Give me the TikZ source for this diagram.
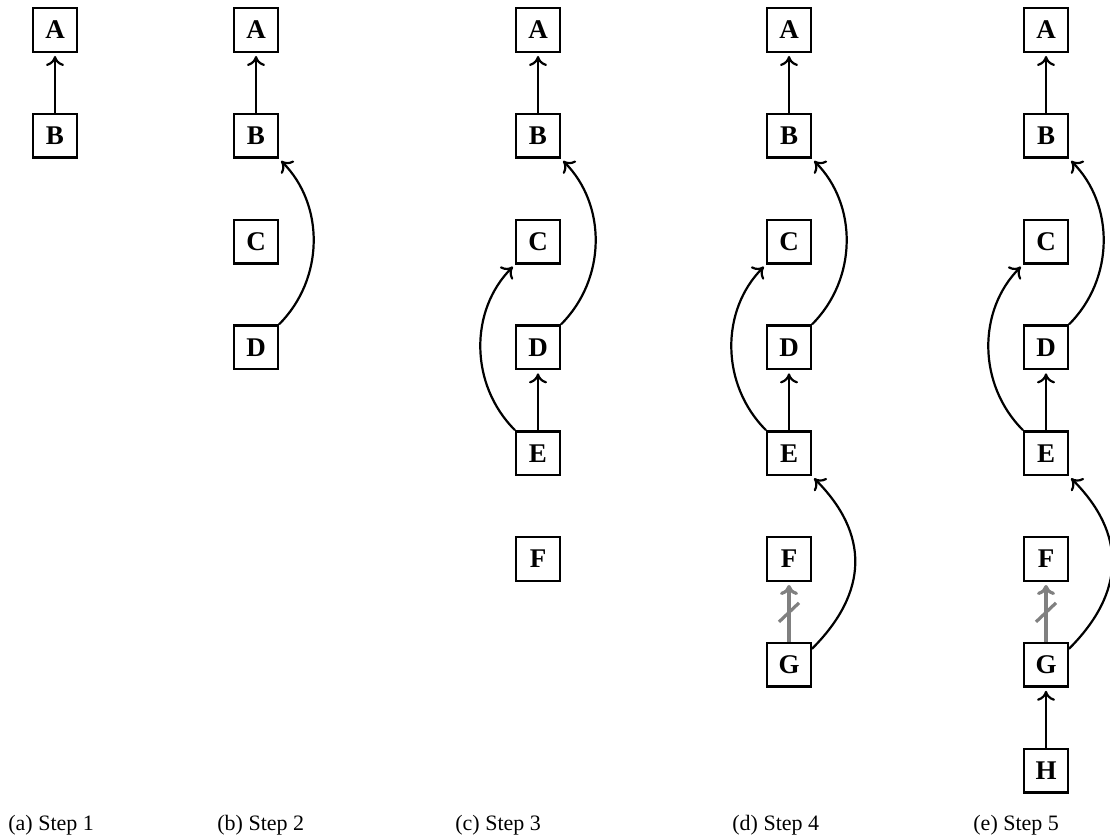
\documentclass[tikz,border=0pt]{standalone}
\usepackage{fontspec}
\setmainfont{Liberation Serif}
\usetikzlibrary{arrows.meta,calc}
\begin{document}
\begin{tikzpicture}[x=0.5pt,y=-0.5pt,
  box/.style={draw,line width=1.2pt,minimum size=21.8pt,inner sep=0pt,font=\fontsize{13.5}{15}\selectfont\bfseries},
  arr/.style={line width=1.1pt,-{To[length=5pt,width=9pt]},shorten >=1.5pt},
  cutarr/.style={draw=gray,line width=1.6pt,-{To[length=5pt,width=9pt]},shorten >=1.5pt},
  slash/.style={draw=gray,line width=1.6pt},
  captext/.style={anchor=base west,inner sep=0pt,font=\fontsize{11}{13}\selectfont}]
\useasboundingbox (0,0) rectangle (1110,839);
% (a)
\node[box] (aA) at (55,30) {A};
\node[box] (aB) at (55,135.8) {B};
\draw[arr] (aB) -- (aA);
% (b)
\node[box] (bA) at (256,30) {A};
\node[box] (bB) at (256,135.8) {B};
\node[box] (bC) at (256,241.6) {C};
\node[box] (bD) at (256,347.4) {D};
\draw[arr] (bB) -- (bA);
\draw[arr] (bD.north east) to[bend right=45] (bB.south east);
% (c)
\node[box] (cA) at (538,30) {A};
\node[box] (cB) at (538,135.8) {B};
\node[box] (cC) at (538,241.6) {C};
\node[box] (cD) at (538,347.4) {D};
\node[box] (cE) at (538,453.2) {E};
\node[box] (cF) at (538,559) {F};
\draw[arr] (cB) -- (cA);
\draw[arr] (cD.north east) to[bend right=45] (cB.south east);
\draw[arr] (cE) -- (cD);
\draw[arr] (cE.north west) to[bend left=45] (cC.south west);
% (d)
\node[box] (dA) at (789,30) {A};
\node[box] (dB) at (789,135.8) {B};
\node[box] (dC) at (789,241.6) {C};
\node[box] (dD) at (789,347.4) {D};
\node[box] (dE) at (789,453.2) {E};
\node[box] (dF) at (789,559) {F};
\node[box] (dG) at (789,664.8) {G};
\draw[arr] (dB) -- (dA);
\draw[arr] (dD.north east) to[bend right=45] (dB.south east);
\draw[arr] (dE) -- (dD);
\draw[arr] (dE.north west) to[bend left=45] (dC.south west);
\draw[cutarr] (dG) -- (dF);
\coordinate (dm) at ($(dG.north)!0.5!(dF.south)$);
\draw[slash] (dm) ++(-10,10) -- ++(20,-19);
\draw[arr] ([yshift=-3.5pt]dG.north east) to[bend right=45,looseness=1.2] (dE.south east);
% (e)
\node[box] (eA) at (1046,30) {A};
\node[box] (eB) at (1046,135.8) {B};
\node[box] (eC) at (1046,241.6) {C};
\node[box] (eD) at (1046,347.4) {D};
\node[box] (eE) at (1046,453.2) {E};
\node[box] (eF) at (1046,559) {F};
\node[box] (eG) at (1046,664.8) {G};
\node[box] (eH) at (1046,770.6) {H};
\draw[arr] (eB) -- (eA);
\draw[arr] (eD.north east) to[bend right=45] (eB.south east);
\draw[arr] (eE) -- (eD);
\draw[arr] (eE.north west) to[bend left=45] (eC.south west);
\draw[cutarr] (eG) -- (eF);
\coordinate (em) at ($(eG.north)!0.5!(eF.south)$);
\draw[slash] (em) ++(-10,10) -- ++(20,-19);
\draw[arr] ([yshift=-3.5pt]eG.north east) to[bend right=45,looseness=1.2] (eE.south east);
\draw[arr] (eH) -- (eG);
% captions
\node[captext] (capa) at (8,831) {(a) Step 1};
\node[captext] (capb) at (217,831) {(b) Step 2};
\node[captext] (capc) at (455,831) {(c) Step 3};
\node[captext] (capd) at (732,831) {(d) Step 4};
\node[captext] (cape) at (973,831) {(e) Step 5};
\end{tikzpicture}
\end{document}
